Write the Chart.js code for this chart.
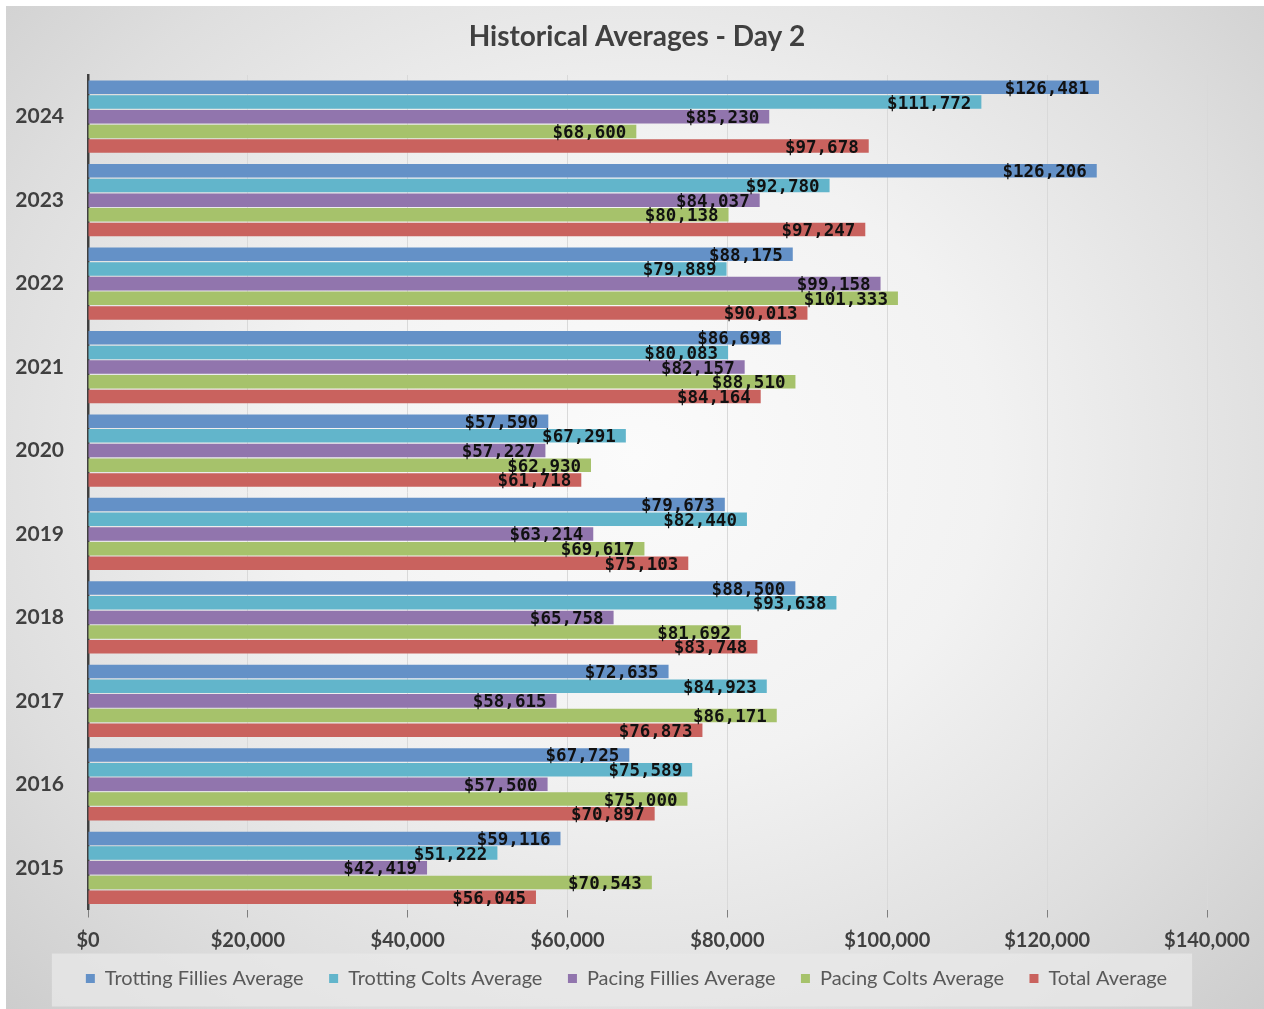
<!DOCTYPE html>
<html>
<head>
<meta charset="utf-8">
<script src="https://cdn.jsdelivr.net/npm/chart.js@4.4.1/dist/chart.umd.min.js"></script>
<style>
  html, body { margin: 0; padding: 0; background: #ffffff; }
  #bg { position: absolute; left: 6px; top: 6px; width: 1258px; height: 1003px;
        background: radial-gradient(ellipse at 50% 45%, #fbfbfb 0%, #f2f2f2 40%, #dedede 75%, #cdcdcd 100%); }
  #wrap { position: absolute; left: 0; top: 0; width: 1264px; height: 1009px; }
</style>
</head>
<body>
<div id="bg"></div>
<div id="wrap"><canvas id="c" width="1264" height="1009"></canvas></div>
<script>
const years = ['2024','2023','2022','2021','2020','2019','2018','2017','2016','2015'];
const trottingFillies = [126481,126206,88175,86698,57590,79673,88500,72635,67725,59116];
const trottingColts   = [111772,92780,79889,80083,67291,82440,93638,84923,75589,51222];
const pacingFillies   = [85230,84037,99158,82157,57227,63214,65758,58615,57500,42419];
const pacingColts     = [68600,80138,101333,88510,62930,69617,81692,86171,75000,70543];
const totalAverage    = [97678,97247,90013,84164,61718,75103,83748,76873,70897,56045];
const seriesNames = ['Trotting Fillies Average','Trotting Colts Average','Pacing Fillies Average','Pacing Colts Average','Total Average'];
const seriesColors = ['#6491c7','#62b5cb','#9175ad','#a6c26b','#c9625e'];
const xTicks = [0,20000,40000,60000,80000,100000,120000,140000];

const fmt = v => '$' + Number(v).toLocaleString('en-US');
const LEGEND_PAD = 25.5;

const dataLabels = {
  id: 'dataLabels',
  afterDatasetsDraw(chart) {
    const ctx = chart.ctx;
    ctx.save();
    ctx.font = 'bold 17.5px "DejaVu Sans Mono"';
    ctx.fillStyle = '#111111';
    ctx.textAlign = 'right';
    ctx.textBaseline = 'alphabetic';
    chart.data.datasets.forEach((ds, i) => {
      const meta = chart.getDatasetMeta(i);
      meta.data.forEach((bar, j) => {
        ctx.fillText(fmt(ds.data[j]), bar.x - 10, bar.y + 6.5);
      });
    });
    ctx.restore();
  }
};

// positions the title and legend blocks like the original, and draws the legend panel
const blocks = {
  id: 'blocks',
  afterUpdate(chart) {
    const t = chart.titleBlock;
    if (t) { t.left = 10; t.right = 1264; }
    const lg = chart.legend;
    if (lg) {
      lg.top -= 20.5; lg.bottom -= 20.5;
      lg.left += 23; lg.right += 23;
    }
  },
  beforeDraw(chart) {
    const lg = chart.legend;
    if (!lg || !lg.lineWidths) return;
    const rowW = lg.lineWidths[0];
    const x0 = (lg.left + LEGEND_PAD + lg.right - rowW) / 2;
    const x1 = x0 + rowW - LEGEND_PAD;
    const cy = lg.top + LEGEND_PAD + 11;
    const ctx = chart.ctx;
    ctx.save();
    ctx.fillStyle = 'rgba(232,232,232,0.75)';
    ctx.fillRect(x0 - 34, cy - 26, (x1 - x0) + 59, 53);
    ctx.restore();
  }
};

new Chart(document.getElementById('c'), {
  type: 'bar',
  data: {
    labels: years,
    datasets: [trottingFillies, trottingColts, pacingFillies, pacingColts, totalAverage].map((d, i) => ({
      label: seriesNames[i],
      data: d,
      backgroundColor: seriesColors[i],
      borderWidth: 0,
      categoryPercentage: 0.88,
      barPercentage: 0.92
    }))
  },
  options: {
    indexAxis: 'y',
    responsive: false,
    animation: false,
    devicePixelRatio: 1,
    layout: { padding: { left: 0, right: 57, top: 6, bottom: -10 } },
    plugins: {
      title: {
        display: true,
        text: 'Historical Averages - Day 2',
        color: '#404040',
        font: { family: 'Lato', size: 28, weight: 'bold' },
        padding: { top: 14.2, bottom: 21.2 }
      },
      legend: {
        position: 'bottom',
        maxHeight: 58,
        labels: {
          color: '#595959',
          font: { family: 'Lato', size: 20 },
          boxWidth: 9,
          boxHeight: 9,
          padding: LEGEND_PAD
        }
      },
      tooltip: { enabled: false }
    },
    scales: {
      x: {
        min: 0, max: 140000,
        afterBuildTicks(scale) { scale.ticks = xTicks.map(v => ({ value: v })); },
        grid: { color: '#d9d9d9', lineWidth: 1, tickColor: '#7f7f7f', tickLength: 8, drawTicks: true },
        border: { display: false },
        ticks: {
          padding: 11,
          color: '#404040',
          font: { family: 'Lato', size: 20, weight: 'bold' },
          maxRotation: 0,
          callback: v => fmt(v)
        }
      },
      y: {
        afterFit(scale) { scale.width = 88; },
        grid: { display: false, drawTicks: false },
        border: { display: true, color: '#404040', width: 2.5 },
        ticks: {
          padding: 24,
          color: '#404040',
          font: { family: 'Lato', size: 21, weight: 'bold' }
        }
      }
    }
  },
  plugins: [dataLabels, blocks]
});
</script>
</body>
</html>
